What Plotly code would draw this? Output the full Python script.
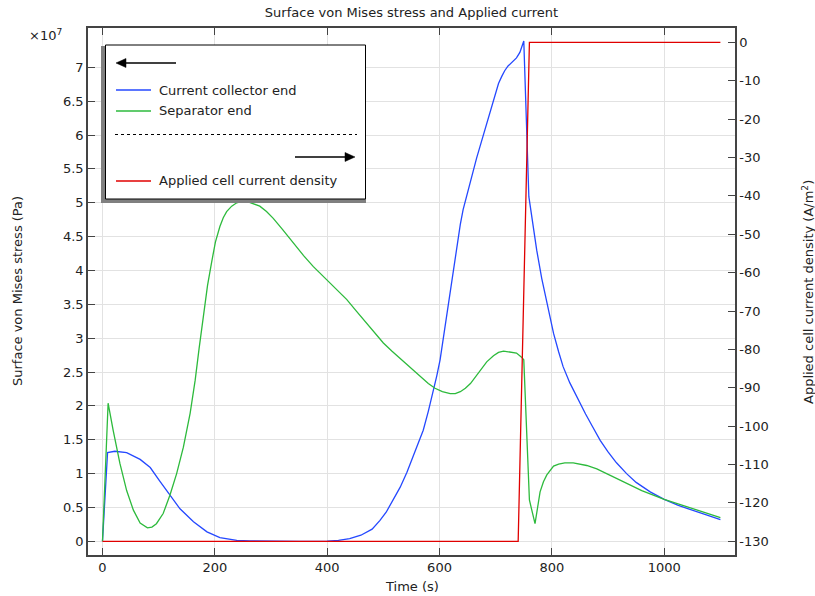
import plotly.graph_objects as go

# ---------------- data ----------------
time_cc = [0, 9, 22, 43, 67, 85, 102, 120, 138, 162, 186, 209, 239, 262, 300, 350, 400, 420,
           440, 460, 480, 494, 505, 520, 530, 542, 553, 562, 571, 580, 589, 595, 601, 607, 613,
           620, 626, 631, 637, 642, 648, 654, 660, 666, 672, 678, 684, 691, 699, 705, 711, 716,
           722, 729, 737, 743, 750, 759, 767, 773, 782, 791, 803, 812, 820, 832, 845, 860, 872,
           886, 900, 915, 933, 950, 975, 1000, 1025, 1052, 1075, 1100]
stress_cc = [0, 1.31, 1.33, 1.31, 1.21, 1.09, 0.89, 0.68, 0.48, 0.29, 0.14, 0.055, 0.015, 0.005,
             0.0, 0.0, 0.003, 0.015, 0.04, 0.09, 0.18, 0.31, 0.43, 0.64, 0.80, 1.02, 1.25, 1.43,
             1.64, 1.92, 2.22, 2.44, 2.68, 3.01, 3.37, 3.75, 4.07, 4.37, 4.68, 4.90, 5.10, 5.30,
             5.49, 5.66, 5.83, 6.00, 6.18, 6.40, 6.62, 6.76, 6.87, 6.95, 7.02, 7.08, 7.14, 7.22,
             7.39, 5.09, 4.60, 4.30, 3.88, 3.52, 3.07, 2.80, 2.58, 2.34, 2.12, 1.88, 1.70, 1.49,
             1.32, 1.16, 1.00, 0.87, 0.73, 0.62, 0.53, 0.46, 0.39, 0.32]  # x 1e7 Pa

time_sep = [0, 10, 19, 31, 43, 55, 67, 75, 80, 88, 96, 108, 120, 132, 144, 156, 165, 172, 180,
            187, 194, 201, 209, 215, 221, 230, 239, 248, 257, 268, 280, 292, 304, 320, 340, 358,
            375, 399, 417, 435, 452, 470, 485, 500, 515, 530, 548, 565, 580, 592, 605, 619, 628,
            637, 646, 655, 664, 672, 684, 696, 705, 714, 725, 737, 746, 750, 760, 770, 779, 785,
            791, 797, 803, 812, 823, 838, 850, 862, 880, 900, 915, 933, 960, 1000, 1025, 1052,
            1075, 1100]
stress_sep = [0, 2.04, 1.64, 1.15, 0.75, 0.46, 0.27, 0.22, 0.20, 0.21, 0.26, 0.41, 0.68, 1.00,
              1.39, 1.89, 2.38, 2.85, 3.37, 3.78, 4.11, 4.42, 4.65, 4.78, 4.87, 4.95, 5.00, 5.02,
              5.02, 4.99, 4.95, 4.87, 4.77, 4.61, 4.40, 4.22, 4.06, 3.86, 3.72, 3.57, 3.40, 3.22,
              3.07, 2.93, 2.81, 2.70, 2.56, 2.43, 2.33, 2.26, 2.21, 2.18, 2.18, 2.21, 2.26, 2.33,
              2.43, 2.53, 2.65, 2.74, 2.79, 2.81, 2.80, 2.78, 2.72, 2.68, 0.61, 0.26, 0.73, 0.88,
              0.98, 1.05, 1.11, 1.14, 1.16, 1.16, 1.14, 1.12, 1.07, 0.99, 0.93, 0.85, 0.75, 0.62,
              0.55, 0.48, 0.42, 0.35]  # x 1e7 Pa

time_cur = [0, 740, 760, 1100]
current_density = [-130, -130, 0, 0]  # A/m^2

x_ticks = [0, 200, 400, 600, 800, 1000]
y_left_ticks = [0, 0.5, 1, 1.5, 2, 2.5, 3, 3.5, 4, 4.5, 5, 5.5, 6, 6.5, 7]
y_left_labels = ["0", "0.5", "1", "1.5", "2", "2.5", "3", "3.5", "4", "4.5", "5", "5.5", "6", "6.5", "7"]
y_right_ticks = [-130, -120, -110, -100, -90, -80, -70, -60, -50, -40, -30, -20, -10, 0]
y_right_labels = ["-130", "-120", "-110", "-100", "-90", "-80", "-70", "-60", "-50", "-40",
                  "-30", "-20", "-10", "0"]

names = ["Current collector end", "Separator end", "Applied cell current density"]
colors = ["#2448ff", "#2dba3c", "#e00000"]

# ---------------- layout geometry (pixels) ----------------
W, H = 815, 596
L, R, T, B = 88, 735, 28, 555


def PX(x):
    return (x - L) / (R - L)


def PY(y):
    return (B - y) / (B - T)


FONT = "DejaVu Sans"
AXC = "#444444"
GRID = "#e2e2e2"

fig = go.Figure()
fig.add_trace(go.Scatter(x=time_cc, y=stress_cc, mode="lines", name=names[0],
                         line=dict(color=colors[0], width=1.3), yaxis="y"))
fig.add_trace(go.Scatter(x=time_sep, y=stress_sep, mode="lines", name=names[1],
                         line=dict(color=colors[1], width=1.3), yaxis="y"))
fig.add_trace(go.Scatter(x=time_cur, y=current_density, mode="lines", name=names[2],
                         line=dict(color=colors[2], width=1.3), yaxis="y2"))

fig.update_layout(
    width=W, height=H,
    margin=dict(l=L, r=W - R, t=T, b=H - B),
    paper_bgcolor="white", plot_bgcolor="white",
    font=dict(family=FONT, size=13, color="#222222"),
    showlegend=False,
    title=dict(text="Surface von Mises stress and Applied current", x=0.5, xref="paper",
               y=1 - 12 / H, yref="container", yanchor="middle", xanchor="center",
               font=dict(size=13, color="#222222")),
    xaxis=dict(range=[-25.8, 1126], tickvals=x_ticks, ticks="inside", ticklen=7,
               tickcolor=AXC, showline=True, linecolor=AXC, linewidth=1.5, mirror="ticks",
               showgrid=True, gridcolor=GRID, gridwidth=1, zeroline=False),
    yaxis=dict(range=[-0.202, 7.581], tickvals=y_left_ticks, ticktext=y_left_labels,
               ticks="inside", ticklen=7, tickcolor=AXC, showline=True, linecolor=AXC,
               linewidth=1.5, showgrid=True, gridcolor=GRID, gridwidth=1, zeroline=False),
    yaxis2=dict(range=[-133.57, 3.73], tickvals=y_right_ticks, ticktext=y_right_labels,
                overlaying="y", side="right", ticks="inside", ticklen=7, tickcolor=AXC,
                showline=True, linecolor=AXC, linewidth=1.5, showgrid=False, zeroline=False),
)

annotations = [
    dict(text="Time (s)", x=PX(411.5), y=PY(586), xref="paper", yref="paper",
         showarrow=False, xanchor="center", yanchor="middle"),
    dict(text="Surface von Mises stress (Pa)", x=PX(17), y=PY(291), xref="paper", yref="paper",
         showarrow=False, textangle=-90, xanchor="center", yanchor="middle"),
    dict(text="Applied cell current density (A/m<sup>2</sup>)", x=PX(808), y=PY(292),
         xref="paper", yref="paper", showarrow=False, textangle=-90,
         xanchor="center", yanchor="middle"),
    dict(text="×10<sup>7</sup>", x=PX(27), y=PY(35), xref="paper", yref="paper",
         showarrow=False, xanchor="left", yanchor="middle"),
]

shapes = [
    # legend shadow and box
    dict(type="rect", xref="paper", yref="paper", x0=PX(101), x1=PX(366), y0=PY(203), y1=PY(46),
         fillcolor="#808080", line=dict(width=0), layer="above"),
    dict(type="rect", xref="paper", yref="paper", x0=PX(105.5), x1=PX(365.5), y0=PY(199),
         y1=PY(45), fillcolor="white", line=dict(color="black", width=1), layer="above"),
    # dotted separator
    dict(type="line", xref="paper", yref="paper", x0=PX(115), x1=PX(357), y0=PY(134.5),
         y1=PY(134.5), line=dict(color="black", width=1, dash="dot"), layer="above"),
]

legend_rows = [90, 111, 181]
for name, col, yy in zip(names, colors, legend_rows):
    shapes.append(dict(type="line", xref="paper", yref="paper", x0=PX(116), x1=PX(151),
                       y0=PY(yy), y1=PY(yy), line=dict(color=col, width=1.3), layer="above"))
    annotations.append(dict(text=name, x=PX(157), y=PY(yy), xref="paper", yref="paper",
                            showarrow=False, xanchor="left", yanchor="middle",
                            font=dict(size=13, color="#222222")))


def arrow(tip_x, tail_x, yy):
    d = 1 if tail_x > tip_x else -1
    base = tip_x + d * 9
    shapes.append(dict(type="line", xref="paper", yref="paper", x0=PX(base), x1=PX(tail_x),
                       y0=PY(yy), y1=PY(yy), line=dict(color="black", width=1.6),
                       layer="above"))
    path = "M {:.5f} {:.5f} L {:.5f} {:.5f} L {:.5f} {:.5f} Z".format(
        PX(tip_x), PY(yy), PX(base + d * 1), PY(yy - 4.5), PX(base + d * 1), PY(yy + 4.5))
    shapes.append(dict(type="path", xref="paper", yref="paper", path=path,
                       fillcolor="black", line=dict(color="black", width=0.5), layer="above"))


# axis arrows in the legend (left axis / right axis)
arrow(116, 176, 63)
arrow(355, 295, 157)

fig.update_layout(shapes=shapes, annotations=annotations)

fig.write_html("out.html", config={"displayModeBar": False},
               post_script="document.body.style.margin='0';document.body.style.overflow='hidden';")
